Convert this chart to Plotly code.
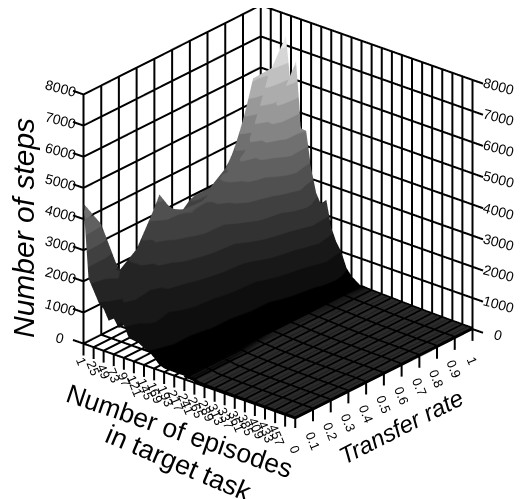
import plotly.graph_objects as go

episodes = [1 + 12 * i for i in range(43)]
transfer = [0, 0.1, 0.2, 0.3, 0.4, 0.5, 0.6, 0.7, 0.8, 0.9, 1]
episode_ticks = [1, 25, 49, 73, 97, 121, 145, 169, 193, 217, 241, 265, 289, 313, 337, 361, 385, 409, 433, 457, 481, 505]
episode_labels = ["1", "25", "49", "73", "97", "121", "145", "169", "193", "217", "241", "265", "289", "313", "337", "361", "385", "409", "433", "457", "", ""]
transfer_labels = ["0", "0.1", "0.2", "0.3", "0.4", "0.5", "0.6", "0.7", "0.8", "0.9", "1"]
step_ticks = [0, 1000, 2000, 3000, 4000, 5000, 6000, 7000, 8000]

steps_t00 = [4500,2140,1820,1490,1340,1020,1150,900,1050,690,670,640,540,480,350,180,120,115,110,110,110,105,90,40,40,30,30,30,25,25,20,20,20,20,15,15,15,15,10,10,10,10,10]
steps_t01 = [3550,2300,2100,2050,1900,1650,1750,1400,1500,1220,1100,950,800,690,530,420,290,210,140,115,110,105,90,50,45,40,35,30,30,25,25,20,20,20,15,15,15,15,15,10,10,10,10]
steps_t02 = [1760,1730,1900,1750,1650,1500,1550,1300,1350,1150,980,900,760,650,530,400,300,220,170,130,110,105,90,55,50,40,35,35,30,25,25,20,20,20,20,15,15,15,15,10,10,10,10]
steps_t03 = [2180,2450,2150,2400,2100,2150,1880,1770,1650,1380,1270,1100,940,770,620,500,360,270,190,140,110,105,70,60,50,45,40,35,30,30,25,25,20,20,20,15,15,15,15,15,10,10,10]
steps_t04 = [3200,3700,3300,2900,2700,2500,2300,2150,1900,1700,1450,1250,1000,850,650,500,380,280,210,160,110,85,75,65,55,45,40,35,30,30,25,25,20,20,20,15,15,15,15,15,10,10,10]
steps_t05 = [2370,2700,2990,3050,3000,2800,2700,2420,2200,1870,1700,1380,1210,940,770,570,460,330,230,170,90,85,80,65,55,50,40,35,35,30,25,25,20,20,20,20,15,15,15,15,10,10,10]
steps_t06 = [2900,3100,2950,3050,2850,2900,2600,2500,2250,2000,1750,1500,1200,1000,750,600,450,330,250,190,90,85,80,70,60,50,45,40,35,30,30,25,25,20,20,20,15,15,15,15,15,10,10]
steps_t07 = [2900,3100,3000,3600,3700,3600,3400,3300,3080,2750,2480,2150,1820,1490,1160,880,660,490,330,220,90,85,80,75,70,60,50,45,40,35,30,30,25,25,20,20,20,15,15,15,15,10,10]
steps_t08 = [3330,3600,3900,3450,4100,4500,3950,4000,3500,3200,2900,2400,2200,1800,1450,1100,800,600,420,220,95,90,85,80,75,70,60,50,45,40,35,30,30,25,25,20,20,20,15,15,15,15,10]
steps_t09 = [4160,5180,6050,5000,5600,6300,5400,5500,4700,4300,3850,3200,2750,2300,1950,1550,1200,880,660,220,95,90,85,80,75,70,65,60,50,45,40,35,30,30,25,25,20,20,20,15,15,15,15]
steps_t10 = [5090,5400,6080,6300,6400,7300,5660,6600,4500,4480,3330,2600,2270,2500,1660,1250,990,540,330,220,110,90,85,80,75,70,65,60,50,50,40,40,35,30,30,25,25,20,20,20,15,15,15]
steps = [steps_t00, steps_t01, steps_t02, steps_t03, steps_t04, steps_t05, steps_t06, steps_t07, steps_t08, steps_t09, steps_t10]

FONT = "Liberation Sans"
band_greys = [0, 14, 24, 36, 50, 64, 80, 96, 112, 132, 152, 172, 192, 214, 236, 250]
FLAT_FROM = 241


def band_scale():
    scale = [[0, "rgb(42,42,42)"], [100 / 8000, "rgb(42,42,42)"], [100 / 8000, "rgb(0,0,0)"]]
    for i, g in enumerate(band_greys):
        lo, hi = i / 16, (i + 1) / 16
        if i > 0:
            scale.append([lo, f"rgb({g},{g},{g})"])
        scale.append([hi, f"rgb({g},{g},{g})"])
    return scale


def lines(segments, width=4, color="black"):
    xs, ys, zs = [], [], []
    for a, b in segments:
        xs += [a[0], b[0], None]
        ys += [a[1], b[1], None]
        zs += [a[2], b[2], None]
    return go.Scatter3d(x=xs, y=ys, z=zs, mode="lines", line=dict(color=color, width=width),
                        hoverinfo="skip", connectgaps=False)


X0, X1, Y0, Y1, Z0, Z1 = episode_ticks[0], episode_ticks[-1], transfer[0], transfer[-1], step_ticks[0], step_ticks[-1]

fig = go.Figure(go.Surface(
    x=episodes, y=transfer, z=steps,
    cmin=0, cmax=8000, colorscale=band_scale(), showscale=False,
    lighting=dict(ambient=1, diffuse=0, specular=0, fresnel=0, roughness=1),
))

grid = []
for v in transfer:
    grid.append(((X0, v, Z0), (X0, v, Z1)))  # back-left wall
    grid.append(((X0, v, Z0), (X1, v, Z0)))  # floor
for e in episode_ticks:
    grid.append(((e, Y1, Z0), (e, Y1, Z1)))  # back-right wall
    grid.append(((e, Y0, Z0), (e, Y1, Z0)))  # floor
for s in step_ticks:
    grid.append(((X0, Y0, s), (X0, Y1, s)))
    grid.append(((X0, Y1, s), (X1, Y1, s)))
fig.add_trace(lines(grid))

# ticks outside the box
TICK_Z = 380
TICK_X = 25
ticks = []
for e in episode_ticks:
    ticks.append(((e, Y0, Z0), (e, Y0, Z0 - TICK_Z)))
for v in transfer:
    ticks.append(((X1, v, Z0), (X1, v, Z0 - TICK_Z)))
for s in step_ticks:
    ticks.append(((X0, Y0, s), (X0 - TICK_X, Y0, s)))
    ticks.append(((X1, Y1, s), (X1 + TICK_X, Y1, s)))
fig.add_trace(lines(ticks))

# mesh across the flat part of the surface: following the surface's own rows and columns
flat_cols = [i for i, e in enumerate(episodes) if e >= FLAT_FROM]
for j, v in enumerate(transfer):
    pts = [(episodes[i], v, steps[j][i] + 4) for i in flat_cols]
    fig.add_trace(lines(list(zip(pts[:-1], pts[1:])), width=6))
for i in flat_cols:
    pts = [(episodes[i], v, steps[j][i] + 4) for j, v in enumerate(transfer)]
    on_tick = episodes[i] in episode_ticks
    fig.add_trace(lines(list(zip(pts[:-1], pts[1:])), width=6 if on_tick else 2, color="black" if on_tick else "#181818"))

scene_notes = []
for t, lab in zip(episode_ticks, episode_labels):
    if lab:
        scene_notes.append(dict(x=t, y=Y0, z=Z0, text=lab, showarrow=False, textangle=68,
                                font=dict(family=FONT, size=13, color="black"),
                                xshift=-3 + 1.6 * len(lab), yshift=-14 - 3.5 * len(lab)))
for v, lab in zip(transfer, transfer_labels):
    scene_notes.append(dict(x=X1, y=v, z=Z0, text=lab, showarrow=False, textangle=68,
                            font=dict(family=FONT, size=13, color="black"),
                            xshift=0, yshift=-31))
for s in step_ticks:
    scene_notes.append(dict(x=X0, y=Y0, z=s, text=str(s), showarrow=False, textangle=15,
                            font=dict(family=FONT, size=14, color="black"),
                            xshift=-23, yshift=6))
    scene_notes.append(dict(x=X1, y=Y1, z=s, text=str(s), showarrow=False, textangle=15,
                            font=dict(family=FONT, size=14, color="black"),
                            xshift=26, yshift=-6))


def axis(rng):
    return dict(range=rng, showticklabels=False, title=dict(text=""), showgrid=False, showline=False,
                ticks="", showbackground=False, zeroline=False, showspikes=False)


K = 1.315
Z_STRETCH = 0.995
PAD_X, PAD_Y, PAD_Z_LO, PAD_Z_HI = 30, 0.02, 450, 50
R = 2.0
fig.update_layout(
    width=529, height=499, margin=dict(l=0, r=0, t=0, b=0),
    paper_bgcolor="white", showlegend=False,
    scene=dict(
        domain=dict(x=[0.035, 0.984], y=[0.158, 1.0]),
        aspectmode="manual",
        aspectratio=dict(x=K * (X1 - X0 + 2 * PAD_X) / (X1 - X0),
                         y=K * (Y1 - Y0 + 2 * PAD_Y) / (Y1 - Y0),
                         z=K * Z_STRETCH * (Z1 - Z0 + PAD_Z_LO + PAD_Z_HI) / (Z1 - Z0)),
        camera=dict(eye=dict(x=0.580 * R, y=-0.693 * R, z=0.420 * R), projection=dict(type="orthographic")),
        xaxis=axis([X0 - PAD_X, X1 + PAD_X]),
        yaxis=axis([Y0 - PAD_Y, Y1 + PAD_Y]),
        zaxis=axis([Z0 - PAD_Z_LO, Z1 + PAD_Z_HI]),
        annotations=scene_notes,
    ),
    annotations=[
        dict(xref="paper", yref="paper", x=15 / 529, y=1 - 220 / 499, text="<i>Number of steps</i>", textangle=-90,
             xanchor="center", yanchor="middle", showarrow=False, font=dict(family=FONT, size=30, color="black")),
        dict(xref="paper", yref="paper", x=171 / 529, y=1 - 423 / 499, text="Number of episodes", textangle=19,
             xanchor="center", yanchor="middle", showarrow=False, font=dict(family=FONT, size=26.5, color="black")),
        dict(xref="paper", yref="paper", x=170 / 529, y=1 - 455 / 499, text="in target task", textangle=23,
             xanchor="center", yanchor="middle", showarrow=False, font=dict(family=FONT, size=27, color="black")),
        dict(xref="paper", yref="paper", x=393 / 529, y=1 - 418 / 499, text="<i>Transfer rate</i>", textangle=-27,
             xanchor="center", yanchor="middle", showarrow=False, font=dict(family=FONT, size=24, color="black")),
    ],
)

fig.write_html("out.html")
